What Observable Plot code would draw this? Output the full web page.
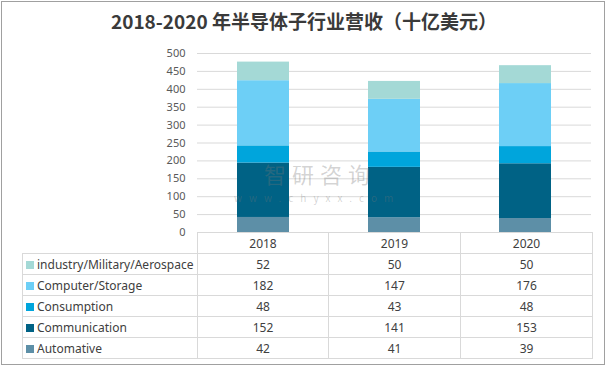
<!DOCTYPE html>
<html><head><meta charset="utf-8">
<script src="https://cdn.jsdelivr.net/npm/d3@7"></script>
<script src="https://cdn.jsdelivr.net/npm/@observablehq/plot@0.6"></script>
<style>
html,body{margin:0;padding:0;background:#fff;}
#wrap{position:relative;width:608px;height:366px;overflow:hidden;font-family:"Noto Sans","DejaVu Sans",sans-serif;}
#frame{position:absolute;left:1px;top:1px;width:602px;height:362px;border:1px solid #a0a0a0;}
#title{position:absolute;left:0;top:7px;width:608px;text-align:center;font-family:"Noto Sans CJK SC",sans-serif;font-weight:bold;font-size:19px;color:#3a3a3a;white-space:nowrap;}
#chart{position:absolute;left:0;top:0;}
table{position:absolute;border-collapse:collapse;font-size:12px;color:#404040;table-layout:fixed;}
td{border:1px solid #d9d9d9;height:20px;padding:0;text-align:center;}
td.lab{text-align:left;white-space:nowrap;padding-left:3px;}
.sw{display:inline-block;width:8px;height:8px;margin-right:3px;vertical-align:0px;}
.wm{position:absolute;color:rgba(120,120,120,0.32);font-family:"Noto Sans CJK SC",sans-serif;white-space:nowrap;}
</style></head>
<body><div id="wrap"><div id="frame"></div><div id="chart"></div><div id="title"></div>
<div class="wm" style="left:264px;top:162px;font-size:22px;letter-spacing:6px;line-height:22px;height:22px">智研咨询</div>
<div class="wm" style="left:234px;top:193px;font-size:10px;letter-spacing:7px;line-height:10px">www.chyxx.com</div>
</div>
<script>
const titleText = "2018-2020 年半导体子行业营收（十亿美元）";
const years = ["2018", "2019", "2020"];
const series = ["Automative", "Communication", "Consumption", "Computer/Storage", "industry/Military/Aerospace"];
const colors = ["#5d8fa7", "#006285", "#00a5dc", "#6dcff6", "#a4d9d6"];
const automative = [42, 41, 39];
const communication = [152, 141, 153];
const consumption = [48, 43, 48];
const computerStorage = [182, 147, 176];
const industry = [52, 50, 50];
const yTicks = [0, 50, 100, 150, 200, 250, 300, 350, 400, 450, 500];

const valuesBySeries = [automative, communication, consumption, computerStorage, industry];
const data = [];
series.forEach((s, si) => years.forEach((y, yi) => data.push({year: y, series: s, value: valuesBySeries[si][yi]})));

document.getElementById("title").textContent = titleText;

const chart = Plot.plot({
  width: 608, height: 366,
  marginTop: 53, marginBottom: 134, marginLeft: 197, marginRight: 17,
  style: {fontFamily: "'Noto Sans', sans-serif", fontSize: "11px", color: "#595959", background: "transparent"},
  x: {domain: years, paddingInner: 0.604, paddingOuter: 0.302, axis: null},
  y: {domain: [0, 500], ticks: yTicks, tickSize: 0, tickPadding: 12, label: null, grid: false},
  color: {domain: series, range: colors},
  marks: [
    Plot.ruleY(yTicks.filter(d => d > 0), {stroke: "#d9d9d9", strokeOpacity: 1}),
    Plot.axisY({ticks: yTicks, tickSize: 0, tickPadding: 12, label: null}),
    Plot.barY(data, Plot.stackY({x: "year", y: "value", fill: "series", order: series}))
  ]
});
document.getElementById("chart").appendChild(chart);

// data table
const tbl = document.createElement("table");
tbl.style.left = "22px"; tbl.style.top = "232px";
const colW = [175, 131, 132, 132];
const cg = document.createElement("colgroup");
colW.forEach(w => { const c = document.createElement("col"); c.style.width = w + "px"; cg.appendChild(c); });
tbl.appendChild(cg);
let tr = document.createElement("tr");
let th0 = document.createElement("td"); th0.style.borderTop = "none"; th0.style.borderLeft = "none"; tr.appendChild(th0);
years.forEach(y => { const td = document.createElement("td"); td.textContent = y; tr.appendChild(td); });
tbl.appendChild(tr);
for (let si = series.length - 1; si >= 0; si--) {
  tr = document.createElement("tr");
  const lab = document.createElement("td"); lab.className = "lab";
  const sw = document.createElement("span"); sw.className = "sw"; sw.style.background = colors[si];
  lab.appendChild(sw); lab.appendChild(document.createTextNode(series[si]));
  tr.appendChild(lab);
  valuesBySeries[si].forEach(v => { const td = document.createElement("td"); td.textContent = v; tr.appendChild(td); });
  tbl.appendChild(tr);
}
document.getElementById("wrap").appendChild(tbl);
</script></body></html>
